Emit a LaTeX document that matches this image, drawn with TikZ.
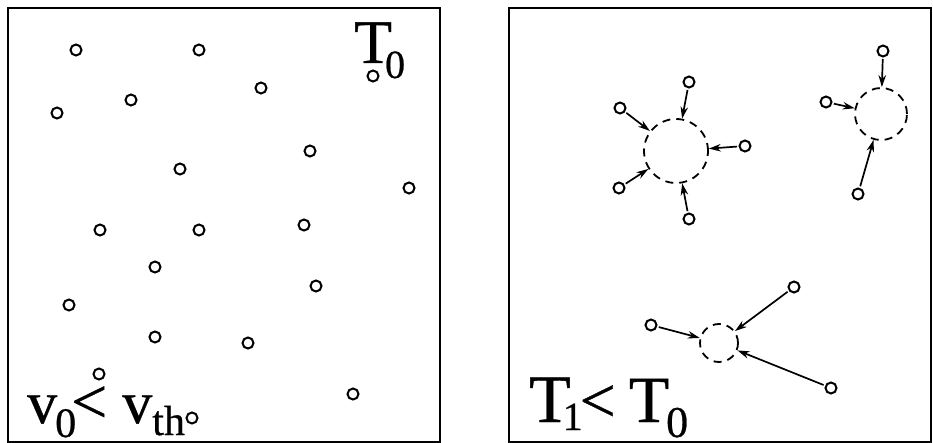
\documentclass[tikz,border=0pt]{standalone}
\usepackage{fontspec}
\setmainfont[FakeBold=0.6]{Liberation Serif}
\usetikzlibrary{arrows.meta}
\tikzset{
  part/.style={circle,draw,line width=2pt,minimum size=11pt,inner sep=0pt},
  clus/.style={circle,draw,line width=1.8pt,dash pattern=on 8pt off 6pt,inner sep=0pt},
  frame/.style={draw,line width=1.6pt},
  flow/.style={line width=1.7pt,-{Stealth[length=12pt,width=7.5pt]},shorten <=1.5pt,shorten >=0pt},
  lbl/.style={inner sep=0pt,anchor=base west}
}
\newcommand{\bigf}[1]{\fontsize{#1}{#1}\selectfont}
\newcommand{\sbx}[3]{\raisebox{#1pt}{\bigf{#2}#3}}
\begin{document}
\begin{tikzpicture}[x=1pt,y=-1pt]
\useasboundingbox (0,0) rectangle (933,443);
\fill[white] (0,0) rectangle (933,443);
% frames
\node[frame,minimum width=432pt,minimum height=434pt,inner sep=0pt,anchor=north west] (boxL) at (7,7) {};
\node[frame,minimum width=422pt,minimum height=434pt,inner sep=0pt,anchor=north west] (boxR) at (508,7) {};
% left particles
\foreach \n/\x/\y in {1/76/50,2/199/50,3/373/76,4/261/88,5/131/100,6/57/113,7/310/151,8/180/169,9/409/188,10/100/230,11/199/230,12/304/225,13/155/267,14/316/286,15/69/305,16/155/337,17/248/343,18/99/374,19/353/394,20/192/418}
  \node[part] (p\n) at (\x,\y) {};
% left labels
\node[lbl] (tzero) at (354,63) {{\bigf{62}T}\kern-7pt\sbx{-15}{40}{0}};
\node[lbl] (vlab) at (27,423) {{\bigf{60}v}\kern-2pt\sbx{-14}{42}{0}\kern-5pt{\bigf{64}<}\kern15pt{\bigf{60}v}\sbx{-12}{42}{th}};
% right: clusters
\node[clus,minimum size=64pt] (c1) at (676,151) {};
\node[clus,minimum size=52pt] (c2) at (881,114) {};
\node[clus,minimum size=38pt] (c3) at (719,343) {};
% right particles
\foreach \n/\x/\y in {a1/620/108,a2/689/82,a3/745/146,a4/619/188,a5/689/219,b1/883/51,b2/826/102,b3/858/194,d1/651/325,d2/794/287,d3/831/388}
  \node[part] (\n) at (\x,\y) {};
% arrows
\foreach \s in {a1,a2,a3,a4,a5} \draw[flow] (\s) -- (c1);
\foreach \s in {b1,b2,b3} \draw[flow] (\s) -- (c2);
\foreach \s in {d1,d2,d3} \draw[flow] (\s) -- (c3);
\node[lbl] (tlab) at (529,422) {{\bigf{68}T}\kern-8pt\sbx{-8}{40}{1}\kern-3pt{\bigf{64}<}\kern13pt{\bigf{66}T}\kern-3pt\sbx{-15}{44}{0}};
\end{tikzpicture}
\end{document}
